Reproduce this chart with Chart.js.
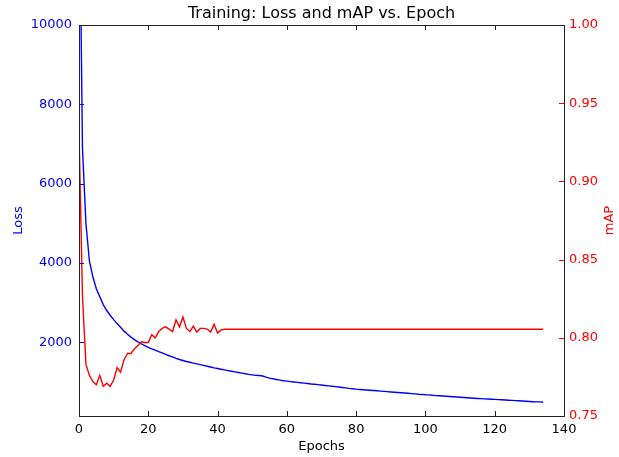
<!DOCTYPE html>
<html>
<head>
<meta charset="utf-8">
<script src="https://cdn.jsdelivr.net/npm/chart.js@4"></script>
<style>
  html, body { margin: 0; padding: 0; background: #fff; }
  #wrap { width: 619px; height: 457px; }
</style>
</head>
<body>
<div id="wrap"><canvas id="canvas1"></canvas></div>
<script>
// tick labels
const epochTicks = [0, 20, 40, 60, 80, 100, 120, 140];
const lossTicks = [2000, 4000, 6000, 8000, 10000];
const mapTicks = [0.75, 0.80, 0.85, 0.90, 0.95, 1.00];

// loss per epoch (0..134)
const loss = [
  14500, 6900, 5000, 4050, 3650, 3350, 3150, 2950, 2800, 2680,
  2570, 2470, 2380, 2280, 2200, 2130, 2065, 2010, 1960, 1915,
  1870, 1835, 1800, 1765, 1730, 1695, 1660, 1630, 1595, 1565,
  1540, 1515, 1495, 1475, 1455, 1435, 1415, 1395, 1375, 1355,
  1338, 1320, 1302, 1285, 1268, 1252, 1236, 1220, 1205, 1190,
  1178, 1165, 1160, 1148, 1120, 1095, 1078, 1060, 1045, 1030,
  1019, 1008, 998, 988, 978, 968, 958, 948, 940, 930,
  920, 910, 900, 890, 880, 870, 860, 850, 838, 828,
  818, 810, 803, 796, 789, 782, 775, 768, 761, 754,
  747, 740, 733, 726, 719, 712, 705, 698, 690, 684,
  675, 672, 662, 655, 649, 643, 637, 631, 625, 619,
  613, 607, 601, 595, 589, 583, 578, 572, 567, 563,
  559, 554, 549, 544, 539, 534, 528, 523, 518, 512,
  507, 501, 496, 497, 486
];

// mAP per epoch (0..134)
const mAP = [
  0.932, 0.827, 0.783, 0.776, 0.772, 0.770, 0.776, 0.769, 0.771, 0.769,
  0.773, 0.781, 0.778, 0.786, 0.790, 0.790, 0.793, 0.795, 0.7975, 0.797,
  0.797, 0.802, 0.800, 0.804, 0.806, 0.807, 0.8056, 0.804, 0.8114, 0.807,
  0.8133, 0.806, 0.804, 0.8075, 0.8037, 0.806, 0.806, 0.8056, 0.8037, 0.8086,
  0.803, 0.805, 0.8055, 0.8055, 0.8055, 0.8055, 0.8055, 0.8055, 0.8055, 0.8055,
  0.8055, 0.8055, 0.8055, 0.8055, 0.8055, 0.8055, 0.8055, 0.8055, 0.8055, 0.8055,
  0.8055, 0.8055, 0.8055, 0.8055, 0.8055, 0.8055, 0.8055, 0.8055, 0.8055, 0.8055,
  0.8055, 0.8055, 0.8055, 0.8055, 0.8055, 0.8055, 0.8055, 0.8055, 0.8055, 0.8055,
  0.8055, 0.8055, 0.8055, 0.8055, 0.8055, 0.8055, 0.8055, 0.8055, 0.8055, 0.8055,
  0.8055, 0.8055, 0.8055, 0.8055, 0.8055, 0.8055, 0.8055, 0.8055, 0.8055, 0.8055,
  0.8055, 0.8055, 0.8055, 0.8055, 0.8055, 0.8055, 0.8055, 0.8055, 0.8055, 0.8055,
  0.8055, 0.8055, 0.8055, 0.8055, 0.8055, 0.8055, 0.8055, 0.8055, 0.8055, 0.8055,
  0.8055, 0.8055, 0.8055, 0.8055, 0.8055, 0.8055, 0.8055, 0.8055, 0.8055, 0.8055,
  0.8055, 0.8055, 0.8055, 0.8055, 0.8055
];

const FONT = 'DejaVu Sans';
const BLUE = '#0000ff';
const RED = '#ff0000';

// frame, inward ticks (matplotlib classic look) and the right-hand label
const frameTicks = {
  id: 'frameTicks',
  afterDatasetsDraw(chart) {
    const { ctx, chartArea: a, scales } = chart;
    const len = 5;
    ctx.save();
    ctx.lineWidth = 1;

    ctx.strokeStyle = '#222';
    ctx.beginPath();
    scales.x.ticks.forEach(t => {
      const px = Math.round(scales.x.getPixelForValue(t.value)) + 0.5;
      ctx.moveTo(px, a.bottom); ctx.lineTo(px, a.bottom - len);
      ctx.moveTo(px, a.top); ctx.lineTo(px, a.top + len);
    });
    ctx.stroke();

    ctx.strokeStyle = BLUE;
    ctx.beginPath();
    scales.y.ticks.forEach(t => {
      const py = Math.round(scales.y.getPixelForValue(t.value)) + 0.5;
      ctx.moveTo(a.left, py); ctx.lineTo(a.left + len, py);
    });
    ctx.stroke();

    ctx.strokeStyle = RED;
    ctx.beginPath();
    scales.y2.ticks.forEach(t => {
      const py = Math.round(scales.y2.getPixelForValue(t.value)) + 0.5;
      ctx.moveTo(a.right, py); ctx.lineTo(a.right - len, py);
    });
    ctx.stroke();

    ctx.strokeStyle = '#222';
    ctx.strokeRect(Math.round(a.left) + 0.5, Math.round(a.top) + 0.5,
      Math.round(a.right - a.left), Math.round(a.bottom - a.top));

    // mAP axis label, reading bottom to top like the reference
    ctx.translate(610, (a.top + a.bottom) / 2);
    ctx.rotate(-Math.PI / 2);
    ctx.fillStyle = RED;
    ctx.font = '13px "' + FONT + '"';
    ctx.textAlign = 'center';
    ctx.textBaseline = 'middle';
    ctx.fillText('mAP', 0, 0);
    ctx.restore();
  }
};

const canvas1 = document.getElementById('canvas1');
new Chart(canvas1, {
  type: 'line',
  data: {
    datasets: [
      {
        label: 'mAP',
        data: mAP.map((v, i) => ({ x: i, y: v })),
        yAxisID: 'y2',
        borderColor: RED,
        borderWidth: 1.4,
        pointRadius: 0,
        tension: 0
      },
      {
        label: 'Loss',
        data: loss.map((v, i) => ({ x: i, y: v })),
        yAxisID: 'y',
        borderColor: BLUE,
        borderWidth: 1.4,
        pointRadius: 0,
        tension: 0
      }
    ]
  },
  options: {
    responsive: true,
    maintainAspectRatio: false,
    animation: false,
    layout: { padding: 0 },
    plugins: {
      legend: { display: false },
      tooltip: { enabled: false },
      title: {
        display: true,
        text: 'Training: Loss and mAP vs. Epoch',
        color: '#000',
        fullSize: false,
        font: { family: FONT, size: 16, weight: 'normal' },
        padding: { top: 4, bottom: 1.8 }
      }
    },
    scales: {
      x: {
        type: 'linear',
        min: 0,
        max: 140,
        afterBuildTicks: s => { s.ticks = epochTicks.map(v => ({ value: v })); },
        afterFit: s => { s.height = 41; },
        grid: { display: false, drawTicks: false },
        border: { display: false },
        ticks: { color: '#000', padding: 6, font: { family: FONT, size: 13 } },
        title: {
          display: true, text: 'Epochs', color: '#000',
          font: { family: FONT, size: 13 }, padding: { top: 0, bottom: 3 }
        }
      },
      y: {
        position: 'left',
        min: 140,
        max: 10000,
        afterBuildTicks: s => { s.ticks = lossTicks.map(v => ({ value: v })); },
        afterFit: s => { s.width = 79; },
        grid: { display: false, drawTicks: false },
        border: { display: false },
        ticks: {
          color: BLUE, padding: 7, font: { family: FONT, size: 13 },
          callback: v => String(v)
        },
        title: {
          display: true, text: 'Loss', color: BLUE,
          font: { family: FONT, size: 13 }, padding: { top: 11, bottom: 0 }
        }
      },
      y2: {
        position: 'right',
        min: 0.75,
        max: 1.0,
        afterBuildTicks: s => { s.ticks = mapTicks.map(v => ({ value: v })); },
        afterFit: s => { s.width = 55; },
        grid: { display: false, drawTicks: false },
        border: { display: false },
        ticks: {
          color: RED, padding: 5, font: { family: FONT, size: 13 },
          callback: v => v.toFixed(2)
        }
      }
    }
  },
  plugins: [frameTicks]
});
</script>
</body>
</html>
